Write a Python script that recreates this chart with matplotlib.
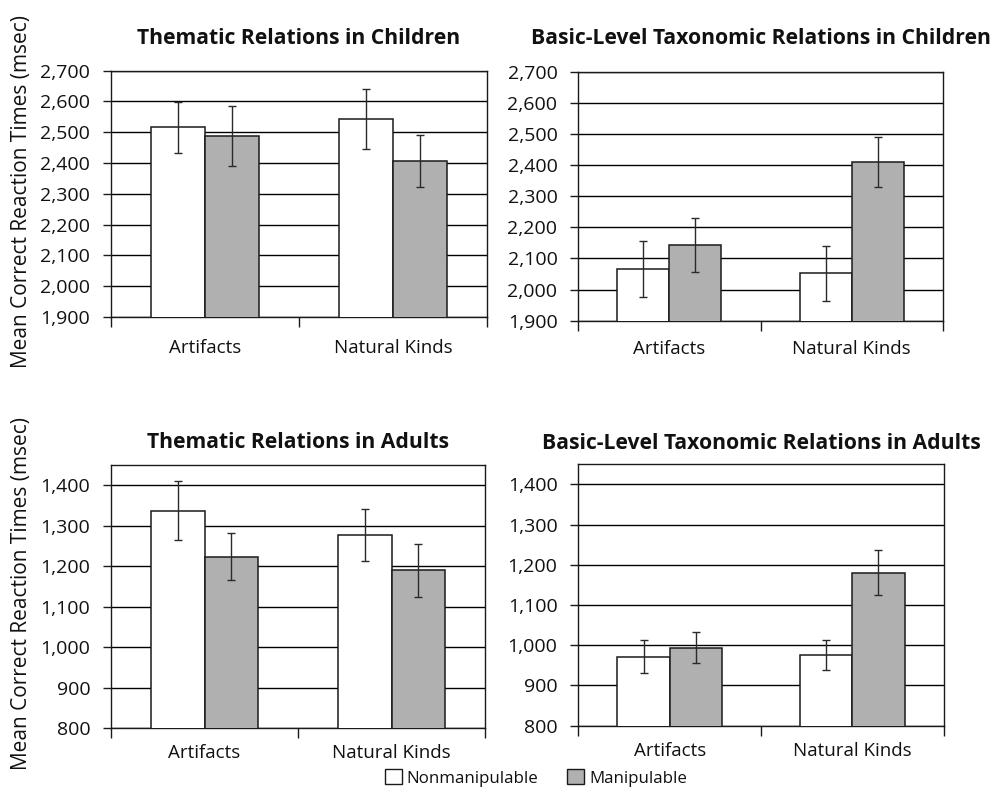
import matplotlib
matplotlib.use("Agg")
import matplotlib.pyplot as plt
import numpy as np
from matplotlib.patches import Patch

plt.rcParams['font.family'] = ['Open Sans', 'DejaVu Sans']

categories = ["Artifacts", "Natural Kinds"]
series_names = ["Nonmanipulable", "Manipulable"]

titles = ["Thematic Relations in Children", "Basic-Level Taxonomic Relations in Children",
          "Thematic Relations in Adults", "Basic-Level Taxonomic Relations in Adults"]

# values: [panel][series][category]
means = [
    [[2516, 2543], [2488, 2406]],
    [[2067, 2052], [2143, 2409]],
    [[1337, 1277], [1223, 1190]],
    [[971, 975], [994, 1180]],
]
errors = [
    [[82, 97], [97, 84]],
    [[90, 89], [86, 80]],
    [[73, 65], [58, 65]],
    [[41, 37], [38, 56]],
]
ylims = [(1900, 2700), (1900, 2700), (800, 1450), (800, 1450)]
yticks = [np.arange(1900, 2701, 100), np.arange(1900, 2701, 100),
          np.arange(800, 1401, 100), np.arange(800, 1401, 100)]

colors = ["white", "#b0b0b0"]

W, H = 996, 790
fig = plt.figure(figsize=(W / 100, H / 100), dpi=100)

# axes boxes in pixels: left, top, right, bottom
boxes = [(111, 70.7, 487, 317), (578.3, 71.7, 942.7, 320.7),
         (111, 465, 485, 728.3), (578.3, 464.3, 943.7, 725.7)]
title_pads = [19, 20, 12.5, 11]
xlabel_pads = [16, 14, 11, 12]

bw = 1 / 3.5
for i, (l, t, r, b) in enumerate(boxes):
    ax = fig.add_axes([l / W, 1 - b / H, (r - l) / W, (b - t) / H])
    x = np.arange(len(categories))
    for s in range(2):
        pos = x - bw / 2 + s * bw
        ax.bar(pos, means[i][s], bw, color=colors[s], edgecolor="#1a1a1a",
               linewidth=1.1, zorder=3)
        ax.errorbar(pos, means[i][s], yerr=errors[i][s], fmt="none",
                     ecolor="#2a2a2a", elinewidth=1.0, capsize=3.2, capthick=1.0, zorder=4)
    ax.set_xlim(-0.5, len(categories) - 0.5)
    ax.set_ylim(*ylims[i])
    ax.set_yticks(yticks[i])
    ax.set_yticklabels([f"{v:,}" for v in yticks[i]], fontsize=14, color="#111111")
    ax.yaxis.grid(True, color="black", linewidth=1.0, zorder=0)
    ax.set_axisbelow(True)
    ax.tick_params(axis='y', length=6, width=1, pad=9, color="#1a1a1a")
    # category ticks at boundaries
    ax.set_xticks([-0.5, 0.5, 1.5])
    ax.set_xticklabels([])
    ax.set_xticks(x, minor=True)
    ax.set_xticklabels(categories, minor=True, fontsize=13.5, color="#111111")
    ax.tick_params(axis='x', which='major', length=7, width=1, color="#1a1a1a")
    ax.tick_params(axis='x', which='minor', length=0, pad=xlabel_pads[i])
    for sp in ax.spines.values():
        sp.set_color("#1a1a1a")
        sp.set_linewidth(1.0)
    ax.set_title(titles[i], fontsize=15.2, fontweight="bold", pad=title_pads[i], color="#111111")

ylabel = "Mean Correct Reaction Times (msec)"
fig.text(22 / W, 1 - 192 / H, ylabel, rotation=90, ha="center", va="center",
         fontsize=15, color="#111111")
fig.text(22 / W, 1 - 594 / H, ylabel, rotation=90, ha="center", va="center",
         fontsize=15, color="#111111")

handles = [Patch(facecolor=colors[s], edgecolor="#1a1a1a", linewidth=1.0) for s in range(2)]
fig.legend(handles, series_names, loc="lower center", bbox_to_anchor=(536 / W, -0.013),
           ncol=2, frameon=False, fontsize=12.2, handlelength=1.0, handleheight=1.0,
           handletextpad=0.3, columnspacing=1.7, labelcolor="#111111",
           borderpad=0.3)

fig.savefig("out.png", dpi=100)
